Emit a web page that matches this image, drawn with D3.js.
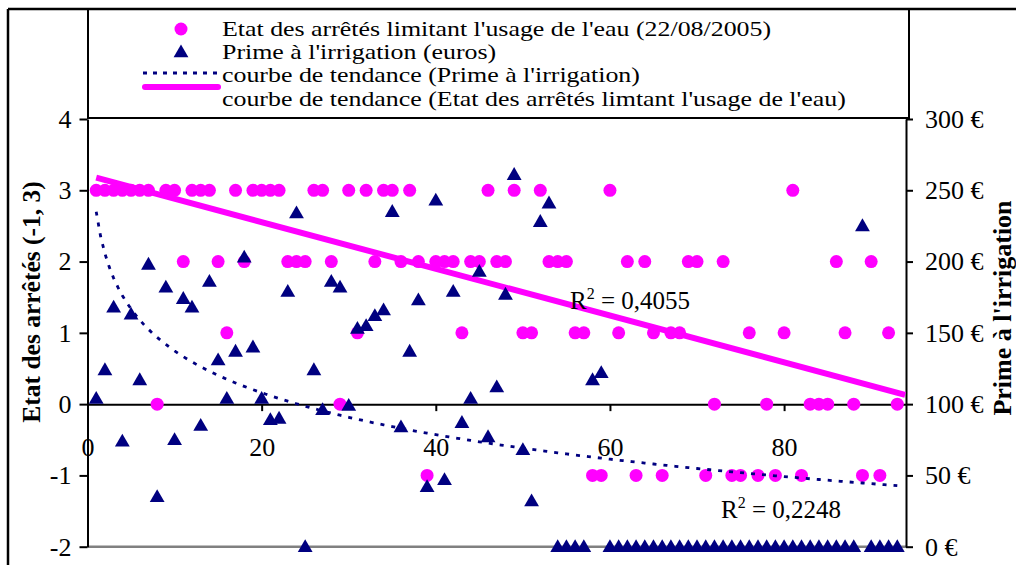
<!DOCTYPE html>
<html>
<head>
<meta charset="utf-8">
<script src="https://d3js.org/d3.v7.min.js"></script>
<style>
  body { margin: 0; background: #fff; }
  svg text { font-family: "Liberation Serif", "Times New Roman", serif; fill: #000; }
</style>
</head>
<body>
<svg id="chart" width="1016" height="565"></svg>
<script>
// etat des arretes (left axis), one value per observation 1..93
var etatArretes = [3,3,3,3,3,3,3,0,3,3, 2,3,3,3,2,1,3,2,3,3,
  3,3,2,2,2,3,3,2,0,3, 1,3,2,3,3,2,3,2,-1,2,
  2,2,1,2,2,3,2,2,3,1, 1,3,2,2,2,1,1,-1,-1,3,
  1,2,-1,2,1,-1,1,1,2,2, -1,0,2,-1,-1,1,-1,0,-1,1,
  3,-1,0,0,0,2,1,0,-1,2, -1,1,0];

// prime a l'irrigation in euros (right axis)
var primeIrrigation = [104,124,168,74,163,117,198,35,182,75,
  174,168,85,186,131,104,137,203,140,104,
  89,90,179,234,0,124,96,186,182,99,
  153,155,162,166,235,84,137,173,42,243,
  47,179,87,104,193,77,112,177,261,68,
  32,228,241,0,0,0,0,117,122,0,
  0,0,0,0,0,0,0,0,0,0, 0,0,0,0,0,0,0,0,0,0,
  0,0,0,0,0,0,0,0,225,0, 0,0,0];

var xTicks = [0, 20, 40, 60, 80];
var leftTicks = [-2, -1, 0, 1, 2, 3, 4];
var rightTicks = [0, 50, 100, 150, 200, 250, 300];

// trend lines as read on the picture
var trendEtat = {intercept: 3.21, slope: -0.0328, r2: "0,4055"};
var trendPrime = {a: 235, b: -42.4, r2: "0,2248"};

var legendLabels = [
  "Etat des arrêtés limitant l'usage de l'eau (22/08/2005)",
  "Prime à l'irrigation (euros)",
  "courbe de tendance (Prime à l'irrigation)",
  "courbe de tendance (Etat des arrêtés limtant l'usage de l'eau)"
];

var pink = "#ff00ff", navy = "#000080";
var svg = d3.select("#chart");

var x = d3.scaleLinear().domain([0, 94]).range([87.5, 906]);
var yL = d3.scaleLinear().domain([-2, 4]).range([546.7, 119]);
var yR = d3.scaleLinear().domain([0, 300]).range([546.7, 119]);

// outer frame
svg.append("line").attr("x1", 8).attr("x2", 1016).attr("y1", 9).attr("y2", 9)
  .attr("stroke", "#000").attr("stroke-width", 2.5);
svg.append("line").attr("x1", 8).attr("x2", 8).attr("y1", 9).attr("y2", 565)
  .attr("stroke", "#000").attr("stroke-width", 2.5);

// legend box
svg.append("rect").attr("x", 88).attr("y", 9).attr("width", 821).attr("height", 109)
  .attr("fill", "none").attr("stroke", "#000").attr("stroke-width", 2);

// bottom grey border of the plot
svg.append("line").attr("x1", x(0)).attr("x2", x(94)).attr("y1", yL(-2)).attr("y2", yL(-2))
  .attr("stroke", "#808080").attr("stroke-width", 2.5);

// left axis
var gL = svg.append("g").attr("transform", "translate(" + x(0) + ",0)")
  .call(d3.axisLeft(yL).tickValues(leftTicks).tickSize(8).tickSizeOuter(0).tickPadding(8)
    .tickFormat(function(d){ return String(d); }));
// right axis
var gR = svg.append("g").attr("transform", "translate(" + x(94) + ",0)")
  .call(d3.axisRight(yR).tickValues(rightTicks).tickSize(7).tickSizeOuter(0).tickPadding(12)
    .tickFormat(function(d){ return d + " €"; }));
// x axis crossing at 0
var gX = svg.append("g").attr("transform", "translate(0," + yL(0) + ")")
  .call(d3.axisBottom(x).tickValues(xTicks).tickSize(7).tickSizeOuter(0)
    .tickFormat(function(d){ return String(d); }));
gX.selectAll("text").attr("y", 43).attr("dy", "0.35em");

[gL, gR, gX].forEach(function(g){
  g.selectAll(".domain").attr("stroke", "#000").attr("stroke-width", 2);
  g.selectAll(".tick line").attr("stroke", "#000").attr("stroke-width", 2);
  g.selectAll("text").style("font-size", "26px").style("font-family", "Liberation Serif");
});
gX.select(".tick line").remove();

// axis titles
svg.append("text").attr("transform", "translate(31,302) rotate(-90)")
  .attr("text-anchor", "middle").attr("dominant-baseline", "central")
  .style("font-size", "25.5px").style("font-weight", "bold")
  .text("Etat des arrêtés (-1, 3)");
svg.append("text").attr("transform", "translate(1002,308) rotate(-90)")
  .attr("text-anchor", "middle").attr("dominant-baseline", "central")
  .style("font-size", "26px").style("font-weight", "bold")
  .text("Prime à l'irrigation");

// pink dots
svg.append("g").selectAll("circle").data(etatArretes).enter().append("circle")
  .attr("cx", function(d, i){ return x(i + 1); })
  .attr("cy", function(d){ return yL(d); })
  .attr("r", 6.5).attr("fill", pink);

// linear trend of etat
svg.append("line")
  .attr("x1", x(1)).attr("y1", yL(trendEtat.intercept + trendEtat.slope * 1))
  .attr("x2", x(93.9)).attr("y2", yL(trendEtat.intercept + trendEtat.slope * 93.9))
  .attr("stroke", pink).attr("stroke-width", 6);

// log trend of prime
var logPts = d3.range(1, 93.5, 0.5).map(function(t){ return [t, trendPrime.a + trendPrime.b * Math.log(t)]; });
svg.append("path").datum(logPts)
  .attr("d", d3.line().x(function(d){ return x(d[0]); }).y(function(d){ return yR(d[1]); }))
  .attr("fill", "none").attr("stroke", navy).attr("stroke-width", 2.8)
  .attr("stroke-dasharray", "4,7");

// triangles
var tri = d3.symbol().type(d3.symbolTriangle).size(95);
svg.append("g").selectAll("path").data(primeIrrigation).enter().append("path")
  .attr("d", tri)
  .attr("transform", function(d, i){ return "translate(" + x(i + 1) + "," + (yR(d) + 1) + ")"; })
  .attr("fill", navy);

// R2 labels
function r2Label(px, py, val){
  var t = svg.append("text").attr("x", px).attr("y", py).style("font-size", "25px");
  t.append("tspan").text("R");
  t.append("tspan").attr("dy", -10).style("font-size", "16px").text("2");
  t.append("tspan").attr("dy", 10).text(" = " + val);
}
r2Label(570, 309, trendEtat.r2);
r2Label(721, 518, trendPrime.r2);

// legend (text is a bit wide in the original, so stretch it sideways)
var legY = [29, 52, 75, 99];
var leg = svg.append("g");
leg.append("g").attr("transform", "translate(222,0) scale(1.177,1)")
  .selectAll("text").data(legendLabels).enter().append("text")
  .attr("x", 0).attr("y", function(d, i){ return legY[i]; })
  .attr("dominant-baseline", "central").style("font-size", "22px")
  .text(function(d){ return d; });
leg.append("circle").attr("cx", 181).attr("cy", legY[0]).attr("r", 6.5).attr("fill", pink);
leg.append("path").attr("d", tri).attr("transform", "translate(181," + (legY[1] + 1) + ")").attr("fill", navy);
leg.append("line").attr("x1", 143).attr("x2", 219).attr("y1", 73).attr("y2", 73)
  .attr("stroke", navy).attr("stroke-width", 3).attr("stroke-dasharray", "4,6");
leg.append("line").attr("x1", 145).attr("x2", 218).attr("y1", 87).attr("y2", 87)
  .attr("stroke", pink).attr("stroke-width", 6).attr("stroke-linecap", "round");
</script>
</body>
</html>
